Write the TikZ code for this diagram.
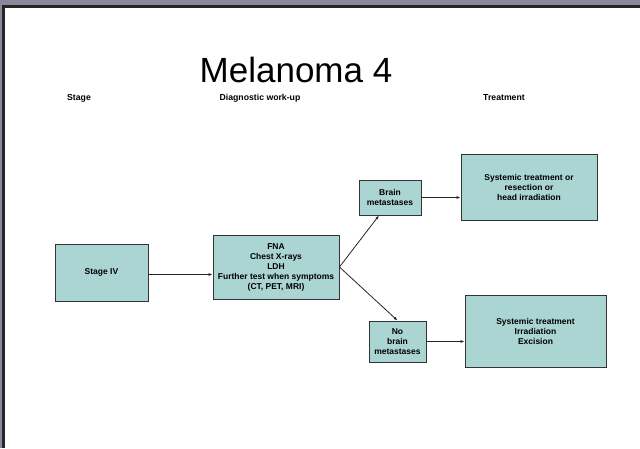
\documentclass[tikz,border=0pt]{standalone}
\usepackage{fontspec}
\setmainfont{Liberation Sans}
\usetikzlibrary{arrows.meta}
\definecolor{boxfill}{RGB}{170,213,211}
\definecolor{framegrey}{RGB}{142,134,154}
\begin{document}
\begin{tikzpicture}[x=1pt,y=-1pt,
  flowbox/.style={draw=black!80,line width=0.9pt,fill=boxfill,align=center,
    inner sep=0pt,font=\fontsize{8.5}{10}\selectfont\bfseries},
  hdr/.style={font=\fontsize{8.7}{10}\selectfont\bfseries,inner sep=0pt},
  conn/.style={draw=black!85,line width=0.8pt,-{Latex[length=4pt,width=3pt]}}]
\useasboundingbox (0,0) rectangle (640,448);
\fill[white] (0,0) rectangle (640,448);
% frame
\fill[framegrey] (0,0) rectangle (640,5);
\fill[framegrey] (0,0) rectangle (2,448);
\fill[black!85] (2,5) rectangle (640,7.5);
\fill[black!85] (2,5) rectangle (5,448);
% title
\node[font=\fontsize{35}{40}\selectfont,inner sep=0pt,anchor=base] (title) at (296,82) {Melanoma 4};
% headers
\node[hdr] (hstage) at (79,98) {Stage};
\node[hdr] (hdiag) at (260,98) {Diagnostic work-up};
\node[hdr] (htreat) at (504,98) {Treatment};
% boxes
\node[flowbox,minimum width=93pt,minimum height=57pt] (stage) at (101.5,272.5) {Stage IV};
\node[flowbox,minimum width=126pt,minimum height=64pt] (diag) at (276,267)
  {FNA\\Chest X-rays\\LDH\\Further test when symptoms\\(CT, PET, MRI)};
\node[flowbox,minimum width=62pt,minimum height=35pt] (brain) at (390,197.5) {Brain\\metastases};
\node[flowbox,minimum width=136pt,minimum height=66pt] (ttop) at (529,187)
  {Systemic treatment or\\resection or\\head irradiation};
\node[flowbox,minimum width=57pt,minimum height=41pt] (nobrain) at (397.5,341.5) {No\\brain\\metastases};
\node[flowbox,minimum width=141pt,minimum height=72pt] (tbot) at (535.5,331)
  {Systemic treatment\\Irradiation\\Excision};
% connectors
\draw[conn] ([yshift=-2pt]stage.east) -- ([yshift=-2pt]stage.east -| diag.west);
\draw[conn] (diag.east) -- ([xshift=-11pt]brain.south);
\draw[conn] (diag.east) -- (nobrain.north);
\draw[conn] (brain.east) -- (brain.east -| ttop.west);
\draw[conn] (nobrain.east) -- (nobrain.east -| tbot.west);
\end{tikzpicture}
\end{document}
